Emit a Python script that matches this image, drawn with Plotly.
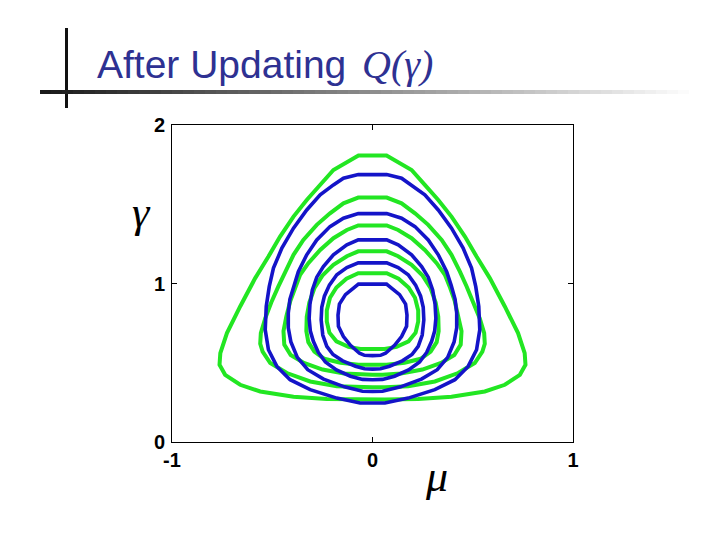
import plotly.graph_objects as go

# ---- Data: contours (left half, from top-centre down to bottom-centre) ----
g1_mu = [0.0, -0.070, -0.195, -0.261, -0.328, -0.394, -0.461, -0.519, -0.585, -0.660, -0.726, -0.759, -0.763, -0.735, -0.660, -0.560, -0.394, -0.228, -0.062, 0.0]
g1_ga = [1.807, 1.807, 1.716, 1.622, 1.527, 1.422, 1.296, 1.170, 1.034, 0.855, 0.687, 0.561, 0.487, 0.424, 0.361, 0.319, 0.285, 0.272, 0.268, 0.268]

g2_mu = [0.0, -0.071, -0.145, -0.212, -0.278, -0.345, -0.394, -0.436, -0.470, -0.505, -0.535, -0.557, -0.560, -0.548, -0.510, -0.427, -0.311, -0.178, -0.062, 0.0]
g2_ga = [1.542, 1.542, 1.506, 1.443, 1.370, 1.275, 1.181, 1.075, 0.980, 0.880, 0.780, 0.687, 0.620, 0.570, 0.498, 0.435, 0.382, 0.352, 0.345, 0.345]

g3_mu = [0.0, -0.071, -0.128, -0.195, -0.261, -0.320, -0.361, -0.385, -0.410, -0.430, -0.444, -0.440, -0.408, -0.342, -0.249, -0.142, -0.050, 0.0]
g3_ga = [1.366, 1.366, 1.338, 1.286, 1.212, 1.128, 1.055, 0.980, 0.890, 0.790, 0.700, 0.615, 0.549, 0.499, 0.457, 0.432, 0.424, 0.424]

g4_mu = [0.0, -0.071, -0.128, -0.195, -0.250, -0.290, -0.315, -0.328, -0.330, -0.320, -0.290, -0.240, -0.160, -0.070, 0.0]
g4_ga = [1.203, 1.203, 1.172, 1.118, 1.050, 0.970, 0.880, 0.790, 0.700, 0.630, 0.570, 0.525, 0.500, 0.488, 0.487]

g5_mu = [0.0, -0.071, -0.130, -0.180, -0.212, -0.228, -0.228, -0.215, -0.180, -0.120, -0.060, 0.0]
g5_ga = [1.065, 1.065, 1.030, 0.975, 0.910, 0.830, 0.760, 0.690, 0.635, 0.600, 0.587, 0.586]

b1_mu = [0.0, -0.071, -0.145, -0.195, -0.261, -0.328, -0.394, -0.452, -0.494, -0.515, -0.530, -0.535, -0.519, -0.477, -0.411, -0.311, -0.178, -0.062, 0.0]
b1_ga = [1.687, 1.687, 1.664, 1.622, 1.559, 1.464, 1.349, 1.223, 1.097, 0.980, 0.855, 0.708, 0.582, 0.477, 0.393, 0.330, 0.277, 0.246, 0.246]

b2_mu = [0.0, -0.071, -0.145, -0.212, -0.278, -0.328, -0.370, -0.392, -0.412, -0.420, -0.420, -0.407, -0.375, -0.323, -0.244, -0.140, -0.050, 0.0]
b2_ga = [1.441, 1.441, 1.412, 1.359, 1.275, 1.181, 1.075, 0.990, 0.900, 0.813, 0.720, 0.631, 0.534, 0.456, 0.397, 0.348, 0.320, 0.319]

b3_mu = [0.0, -0.071, -0.128, -0.195, -0.245, -0.278, -0.300, -0.312, -0.316, -0.310, -0.295, -0.270, -0.235, -0.180, -0.110, -0.050, 0.0]
b3_ga = [1.275, 1.275, 1.244, 1.181, 1.107, 1.040, 0.960, 0.870, 0.780, 0.700, 0.635, 0.565, 0.505, 0.455, 0.415, 0.395, 0.393]

b4_mu = [0.0, -0.071, -0.128, -0.178, -0.215, -0.240, -0.253, -0.256, -0.248, -0.228, -0.197, -0.149, -0.085, -0.040, 0.0]
b4_ga = [1.130, 1.130, 1.100, 1.055, 0.990, 0.920, 0.850, 0.770, 0.675, 0.604, 0.552, 0.512, 0.478, 0.462, 0.460]

b5_mu = [0.0, -0.070, -0.135, -0.165, -0.172, -0.170, -0.145, -0.110, -0.065, -0.040, 0.0]
b5_ga = [0.996, 0.996, 0.930, 0.870, 0.800, 0.730, 0.665, 0.610, 0.560, 0.547, 0.545]

green_contours = [(g1_mu, g1_ga), (g2_mu, g2_ga), (g3_mu, g3_ga), (g4_mu, g4_ga), (g5_mu, g5_ga)]
blue_contours = [(b1_mu, b1_ga), (b2_mu, b2_ga), (b3_mu, b3_ga), (b4_mu, b4_ga), (b5_mu, b5_ga)]

x_ticks = [-1, 0, 1]
y_ticks = [0, 1, 2]

GREEN = "#22e622"
BLUE = "#1414c8"


def closed_loop(mu_half, ga_half):
    # the traced contours are symmetric about mu = 0: left half + mirrored right half
    xs = list(mu_half) + [-m for m in reversed(mu_half)]
    ys = list(ga_half) + list(reversed(ga_half))
    return xs, ys


fig = go.Figure()
for mu_h, ga_h in green_contours:
    xs, ys = closed_loop(mu_h, ga_h)
    fig.add_trace(go.Scatter(x=xs, y=ys, mode="lines", line=dict(color=GREEN, width=4),
                             hoverinfo="skip", showlegend=False))
for mu_h, ga_h in blue_contours:
    xs, ys = closed_loop(mu_h, ga_h)
    fig.add_trace(go.Scatter(x=xs, y=ys, mode="lines", line=dict(color=BLUE, width=3.6),
                             hoverinfo="skip", showlegend=False))

W, H = 720, 540
OFF = 8  # page offset of the figure (body margin)
# plot area in page pixels
PX0, PX1, PY0, PY1 = 172, 573, 125, 442
L, T = PX0 - OFF, PY0 - OFF
R, B = W - (PX1 - OFF), H - (PY1 - OFF)
PW, PH = PX1 - PX0, PY1 - PY0


def px(xp):
    return (xp - PX0) / PW


def py(yp):
    return (PY1 - yp) / PH


axis_common = dict(showgrid=False, zeroline=False, showline=True, linecolor="black", linewidth=1,
                   mirror="ticks", ticks="inside", ticklen=5, tickcolor="black",
                   tickfont=dict(family="Liberation Sans", size=20, color="black", weight="bold"))

fig.update_xaxes(range=[-1, 1], tickvals=x_ticks, ticktext=[str(v) for v in x_ticks],
                 ticklabelstandoff=0, **axis_common)
fig.update_yaxes(range=[0, 2], tickvals=y_ticks, ticktext=[str(v) for v in y_ticks],
                 ticklabelstandoff=2, **axis_common)

shapes = []
# vertical decorative bar
shapes.append(dict(type="line", xref="paper", yref="paper", x0=px(66.5), x1=px(66.5), y0=py(28), y1=py(108),
                   line=dict(color="#111111", width=3)))
# horizontal gradient bar
n = 60
x_start, x_end = 40, 700
for i in range(n):
    xa = x_start + (x_end - x_start) * i / n
    xb = x_start + (x_end - x_start) * (i + 1) / n
    f = i / (n - 1)
    c = int(26 + (255 - 26) * f)
    shapes.append(dict(type="rect", xref="paper", yref="paper", x0=px(xa), x1=px(xb) + 0.001,
                       y0=py(94), y1=py(90), line=dict(width=0), fillcolor=f"rgb({c},{c},{c})"))

annotations = [
    dict(text="After Updating", xref="paper", yref="paper", x=px(95), y=py(64), xanchor="left", yanchor="middle",
         showarrow=False, font=dict(family="Liberation Sans", size=39, color="#2e3192")),
    dict(text="<i>Q(γ)</i>", xref="paper", yref="paper", x=px(360), y=py(64), xanchor="left", yanchor="middle",
         showarrow=False, font=dict(family="Liberation Serif", size=40, color="#2e3192")),
    dict(text="<i>γ</i>", xref="paper", yref="paper", x=px(141), y=py(212), xanchor="center", yanchor="middle",
         showarrow=False, font=dict(family="Liberation Serif", size=44, color="black")),
    dict(text="<i>μ</i>", xref="paper", yref="paper", x=px(436), y=py(476), xanchor="center", yanchor="middle",
         showarrow=False, font=dict(family="Liberation Serif", size=44, color="black")),
]

fig.update_layout(width=W, height=H, margin=dict(l=L, r=R, t=T, b=B, autoexpand=False),
                  paper_bgcolor="white", plot_bgcolor="white", shapes=shapes, annotations=annotations,
                  showlegend=False)

fig.write_html("out.html")
